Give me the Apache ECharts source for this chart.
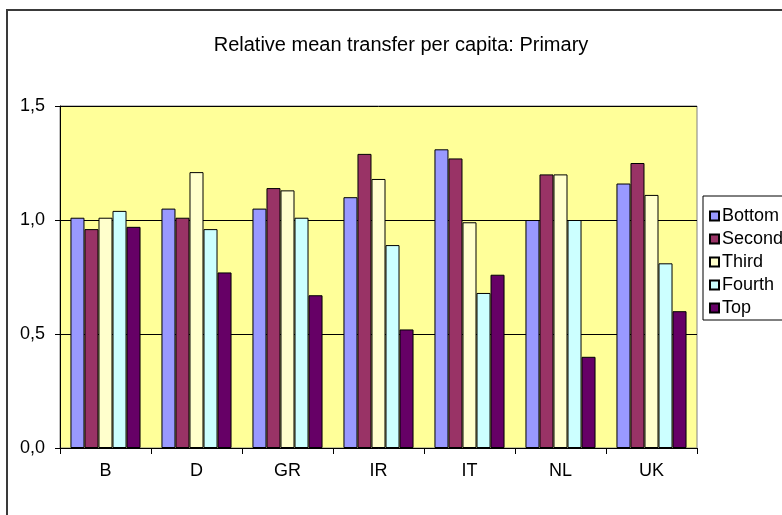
<!DOCTYPE html>
<html>
<head>
<meta charset="utf-8">
<script src="https://cdn.jsdelivr.net/npm/echarts@6/dist/echarts.min.js"></script>
<style>
    html, body { margin: 0; padding: 0; background: #fff; }
    #chart { width: 782px; height: 515px; }
</style>
</head>
<body>
<div id="chart"></div>
<script>
const countries = ["B", "D", "GR", "IR", "IT", "NL", "UK"];
const seriesNames = ["Bottom", "Second", "Third", "Fourth", "Top"];
const bottomVals = [1.01, 1.05, 1.05, 1.10, 1.31, 1.00, 1.16];
const secondVals = [0.96, 1.01, 1.14, 1.29, 1.27, 1.20, 1.25];
const thirdVals = [1.01, 1.21, 1.13, 1.18, 0.99, 1.20, 1.11];
const fourthVals = [1.04, 0.96, 1.01, 0.89, 0.68, 1.00, 0.81];
const topVals = [0.97, 0.77, 0.67, 0.52, 0.76, 0.40, 0.60];
const colors = ["#9999FF", "#993366", "#FFFFCC", "#CCFFFF", "#660066"];

const font = "Liberation Sans, Arial, sans-serif";
const chart = echarts.init(document.getElementById("chart"));

const allVals = [bottomVals, secondVals, thirdVals, fourthVals, topVals];

chart.setOption({
    animation: false,
    backgroundColor: "#fff",
    textStyle: { fontFamily: font },
    graphic: [
        // outer chart frame
        {
            type: "rect",
            shape: { x: 7, y: 10, width: 800, height: 600 },
            style: { fill: "none", stroke: "#3a3a3a", lineWidth: 2 },
            z: -10
        },
        {
            type: "text",
            x: 401,
            y: 45,
            style: {
                text: "Relative mean transfer per capita: Primary",
                font: "20px " + font,
                fill: "#000",
                textAlign: "center",
                textVerticalAlign: "middle"
            }
        },
        // legend box, runs off the right edge like the original
        {
            type: "rect",
            shape: { x: 703, y: 196, width: 120, height: 124 },
            style: { fill: "#fff", stroke: "#000", lineWidth: 1 },
            z: 0
        }
    ],
    legend: {
        orient: "vertical",
        left: 704,
        top: 202,
        itemWidth: 9,
        itemHeight: 9,
        itemGap: 5,
        icon: "rect",
        textStyle: { fontSize: 18, color: "#000", fontFamily: font, padding: [0, 0, 0, -2] },
        data: seriesNames,
        z: 5
    },
    grid: {
        left: 60,
        right: 85,
        top: 106,
        bottom: 67,
        show: true,
        backgroundColor: "#FFFF99",
        borderColor: "#808080",
        borderWidth: 1
    },
    xAxis: {
        type: "category",
        data: countries,
        axisLine: { lineStyle: { color: "#000", width: 1 } },
        axisTick: { show: true, length: 6, lineStyle: { color: "#000" } },
        axisLabel: { color: "#000", fontSize: 18, margin: 14, fontFamily: font }
    },
    yAxis: {
        type: "value",
        min: 0,
        max: 1.5,
        interval: 0.5,
        axisLine: { show: true, lineStyle: { color: "#000", width: 1 } },
        axisTick: { show: true, length: 5, lineStyle: { color: "#000" } },
        splitLine: { show: true, lineStyle: { color: "#000", width: 1 } },
        axisLabel: {
            color: "#000",
            fontSize: 18,
            margin: 15,
            fontFamily: font,
            formatter: v => v.toFixed(1).replace(".", ",")
        }
    },
    series: seriesNames.map((name, i) => ({
        name: name,
        type: "bar",
        data: allVals[i],
        barGap: "0%",
        barCategoryGap: "23%",
        itemStyle: { color: colors[i], borderColor: "#000", borderWidth: 1 }
    }))
});
</script>
</body>
</html>
